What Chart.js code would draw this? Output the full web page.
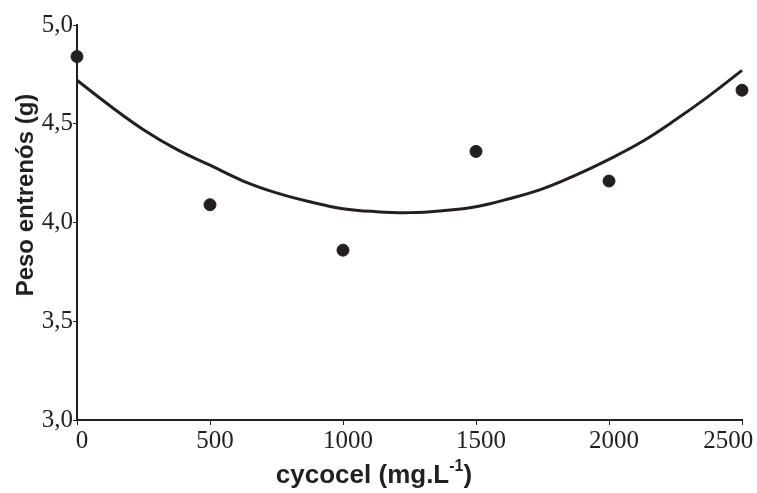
<!DOCTYPE html>
<html>
<head>
<meta charset="utf-8">
<script src="https://cdn.jsdelivr.net/npm/chart.js@4.4.0/dist/chart.umd.min.js"></script>
<style>
  html, body { margin: 0; padding: 0; background: #fff; }
  #wrap { width: 757px; height: 493px; }
</style>
</head>
<body>
<div id="wrap"><canvas id="peso_chart"></canvas></div>
<script>
// observed means
var doses = [0, 500, 1000, 1500, 2000, 2500];
var peso = [4.84, 4.09, 3.86, 4.36, 4.21, 4.67];

// fitted curve
var curveX = [0, 125, 250, 375, 500, 625, 750, 875, 1000, 1125, 1250, 1375, 1500, 1625, 1750, 1875, 2000, 2125, 2250, 2375, 2500];
var curveY = [4.72, 4.59, 4.47, 4.37, 4.29, 4.21, 4.15, 4.105, 4.07, 4.055, 4.05, 4.06, 4.08, 4.12, 4.17, 4.24, 4.32, 4.41, 4.52, 4.64, 4.77];

var xTicks = ["0", "500", "1000", "1500", "2000", "2500"];
var yTicks = ["3,0", "3,5", "4,0", "4,5", "5,0"];

var ink = "#231f20";
var serif = "'Liberation Serif', 'Times New Roman', serif";
var sans = "'Liberation Sans', Arial, sans-serif";

var axisTitles = {
    id: "axisTitles",
    afterDraw: function(chart) {
        var c = chart.ctx;
        c.save();
        c.fillStyle = ink;
        c.textBaseline = "alphabetic";

        // y title
        c.font = "bold 24px " + sans;
        c.save();
        c.translate(33, 195);
        c.rotate(-Math.PI / 2);
        c.textAlign = "center";
        c.fillText("Peso entrenós (g)", 0, 0);
        c.restore();

        // x title with superscript
        var main = "cycocel (mg.L";
        var sup = "-1";
        var end = ")";
        c.font = "bold 26px " + sans;
        var w1 = c.measureText(main).width;
        var w3 = c.measureText(end).width;
        c.font = "bold 16px " + sans;
        var w2 = c.measureText(sup).width;
        var x0 = 374 - (w1 + w2 + w3) / 2;
        var yb = 483;
        c.textAlign = "left";
        c.font = "bold 26px " + sans;
        c.fillText(main, x0, yb);
        c.font = "bold 16px " + sans;
        c.fillText(sup, x0 + w1, yb - 12);
        c.font = "bold 26px " + sans;
        c.fillText(end, x0 + w1 + w2, yb);
        c.restore();
    }
};

var chart_peso = new Chart(document.getElementById("peso_chart"), {
    type: "scatter",
    data: {
        datasets: [{
            label: "observado",
            data: doses.map(function(d, i) { return {x: d, y: peso[i]}; }),
            backgroundColor: ink,
            borderColor: ink,
            pointRadius: 6,
            pointHoverRadius: 6,
            showLine: false,
            clip: false,
            order: 0
        }, {
            label: "ajuste",
            data: curveX.map(function(d, i) { return {x: d, y: curveY[i]}; }),
            borderColor: ink,
            borderWidth: 3,
            pointRadius: 0,
            showLine: true,
            tension: 0.4,
            fill: false,
            clip: false,
            order: 1
        }]
    },
    plugins: [axisTitles],
    options: {
        responsive: true,
        maintainAspectRatio: false,
        animation: false,
        layout: {
            padding: { left: 0, right: 15, top: 25, bottom: 0 }
        },
        plugins: {
            legend: { display: false },
            tooltip: { enabled: false }
        },
        scales: {
            x: {
                type: "linear",
                min: 0,
                max: 2500,
                afterFit: function(axis) {
                    axis.height = 73;
                    axis.paddingLeft = 0;
                    axis.paddingRight = 0;
                },
                afterBuildTicks: function(axis) {
                    axis.ticks = xTicks.map(function(t) { return {value: Number(t)}; });
                },
                grid: { display: true, drawOnChartArea: false, drawTicks: true, tickLength: 5, color: ink, lineWidth: 1 },
                border: { display: true, color: ink, width: 2 },
                ticks: {
                    color: ink,
                    padding: 1,
                    maxRotation: 0,
                    labelOffset: 5,
                    font: { family: serif, size: 25 },
                    callback: function(value, index) {
                        // last label sits inside the frame in the original
                        if (index === xTicks.length - 1) return xTicks[index] + "\u2007\u2007\u2007";
                        return xTicks[index];
                    }
                }
            },
            y: {
                type: "linear",
                min: 3,
                max: 5,
                afterFit: function(axis) {
                    axis.width = 77;
                    axis.paddingTop = 0;
                    axis.paddingBottom = 0;
                },
                afterBuildTicks: function(axis) {
                    axis.ticks = yTicks.map(function(t) { return {value: Number(t.replace(",", "."))}; });
                },
                grid: { display: true, drawOnChartArea: false, drawTicks: true, tickLength: 4, color: ink, lineWidth: 1 },
                border: { display: true, color: ink, width: 2 },
                ticks: {
                    color: ink,
                    padding: 0,
                    font: { family: serif, size: 25 },
                    callback: function(value, index) { return yTicks[index]; }
                }
            }
        }
    }
});
</script>
</body>
</html>
